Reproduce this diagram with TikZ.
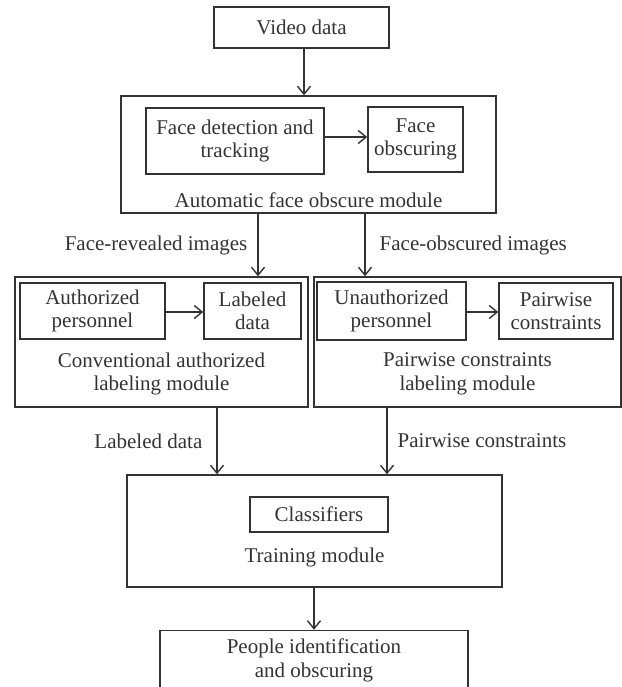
\documentclass[tikz,border=0pt]{standalone}
\usepackage{fontspec}
\setmainfont{Liberation Serif}
\usetikzlibrary{positioning}
\usetikzlibrary{arrows.meta}
\definecolor{ink}{HTML}{333333}
\tikzset{
    box/.style={rectangle, draw=ink, line width=0.7pt, inner sep=0pt, align=center, text=ink, font=\fontsize{10.5}{11.8}\selectfont},
    wh/.style n args={2}{minimum width=#1*0.5pt, minimum height=#2*0.5pt},
    txt/.style={inner sep=0pt, align=center, text=ink, font=\fontsize{10.5}{11.8}\selectfont},
    edgen/.style={-{Straight Barb[length=4pt,width=6.5pt]}, line width=0.7pt, draw=ink}
}
\begin{document}
\begin{tikzpicture}[x=0.5pt,y=-0.5pt]
\useasboundingbox (0,0) rectangle (622,687);
\clip (0,0) rectangle (622,687);
%
\node[box, wh={175}{41}] at (301.5,27.5) (video) {Video data};
\node[box, wh={375}{117}] at (308.5,154.5) (autom) {};
\node[box, wh={178}{66}] at (235,141) (detect) {Face detection and\\tracking};
\node[box, wh={95}{65}] at (415.5,139.5) (obscur) {Face\\obscuring};
\node[txt] at (308.5,200) (automlbl) {Automatic face obscure module};
%
\node[box, wh={293}{130}] at (161.5,342) (lmod) {};
\node[box, wh={145}{56}] at (92.5,311) (auth) {Authorized\\personnel};
\node[box, wh={97}{56}] at (252.5,311) (labd) {Labeled\\data};
\node[txt] at (161.5,374) (lmodlbl) {Conventional authorized\\labeling module};
%
\node[box, wh={307}{130}] at (467.5,342) (rmod) {};
\node[box, wh={149}{58}] at (391.5,311) (unauth) {Unauthorized\\personnel};
\node[box, wh={114}{56}] at (556,311) (pairc) {Pairwise\\constraints};
\node[txt] at (467.5,374) (rmodlbl) {Pairwise constraints\\labeling module};
%
\node[box, wh={375}{112}] at (314.5,531) (train) {};
\node[box, wh={138}{35}] at (319,514.5) (classif) {Classifiers};
\node[txt] at (314.5,557) (trainlbl) {Training module};
%
\node[box, wh={308}{60}] at (314,660.5) (people) {People identification\\and obscuring};
%
\draw[edgen] (video.south -| 304,0) -- (autom.north -| 304,0);
\draw[edgen] (detect.east |- 0,137) -- (obscur.west |- 0,137);
\draw[edgen] (autom.south -| 258,0) -- node[txt, left=5pt] {Face-revealed images} (lmod.north -| 258,0);
\draw[edgen] (autom.south -| 365,0) -- node[txt, right=7pt] {Face-obscured images} (rmod.north -| 365,0);
\draw[edgen] (auth.east |- 0,312) -- (labd.west |- 0,312);
\draw[edgen] (unauth.east |- 0,312) -- (pairc.west |- 0,312);
\draw[edgen] (lmod.south -| 217,0) -- node[txt, left=7pt] {Labeled data} (train.north -| 217,0);
\draw[edgen] (rmod.south -| 387,0) -- node[txt, right=5pt] {Pairwise constraints} (train.north -| 387,0);
\draw[edgen] (train.south -| 314,0) -- (people.north -| 314,0);

\end{tikzpicture}
\end{document}
